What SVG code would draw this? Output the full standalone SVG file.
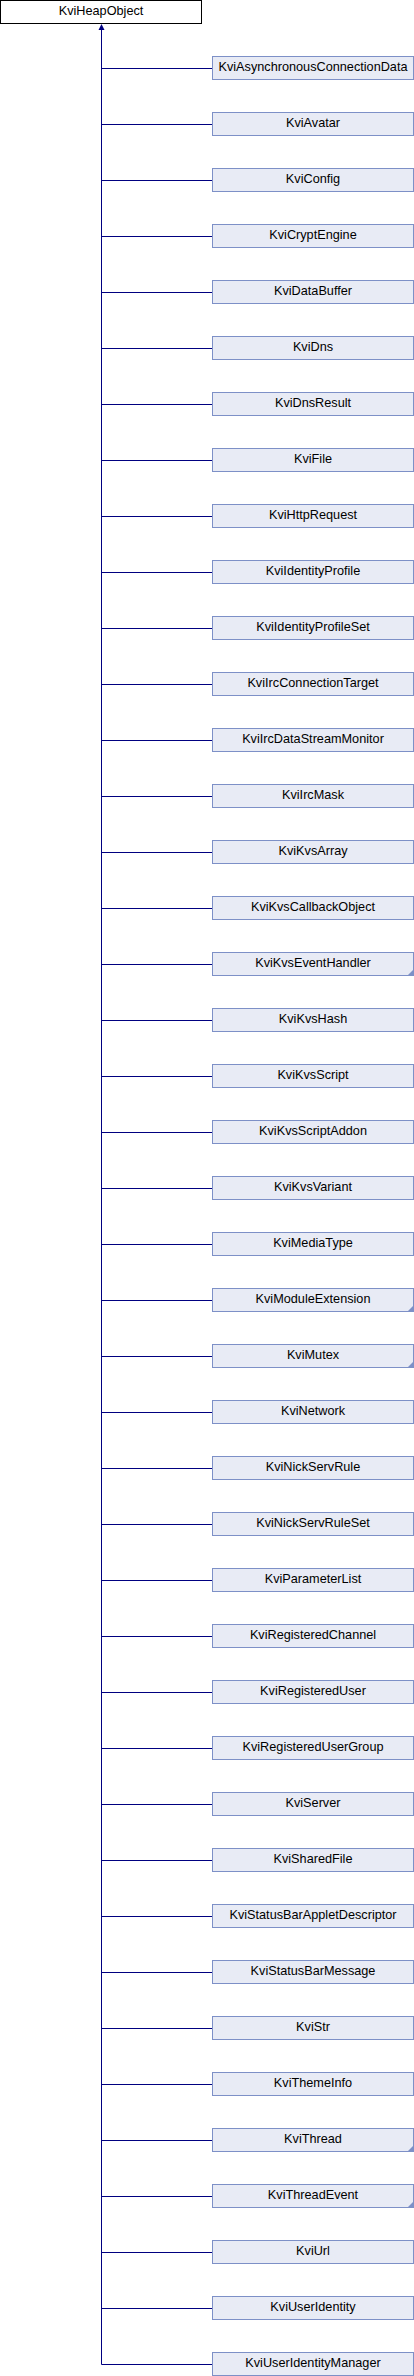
<svg xmlns="http://www.w3.org/2000/svg" width="414" height="2376" viewBox="0 0 414 2376">
<style>
.root{fill:#ffffff;stroke:#000000;stroke-width:1}
.node{fill:#e8ebf5;stroke:#7d90c7;stroke-width:1}
.tri{fill:#7d90c7}
text{font-family:"Liberation Sans",Arial,sans-serif;font-size:12.7px;fill:#000000;text-anchor:middle}
.edge{stroke:#000080;stroke-width:1;fill:none}
</style>
<rect width="414" height="2376" fill="#ffffff"/>
<g id="connectors">
<polyline class="edge" points="101.5,29 101.5,2364.5"/>
<polygon points="101.5,24 98.5,30 104.5,30" fill="#000080"/>
<path class="edge" d="M101.5,68.5H212.5M101.5,124.5H212.5M101.5,180.5H212.5M101.5,236.5H212.5M101.5,292.5H212.5M101.5,348.5H212.5M101.5,404.5H212.5M101.5,460.5H212.5M101.5,516.5H212.5M101.5,572.5H212.5M101.5,628.5H212.5M101.5,684.5H212.5M101.5,740.5H212.5M101.5,796.5H212.5M101.5,852.5H212.5M101.5,908.5H212.5M101.5,964.5H212.5M101.5,1020.5H212.5M101.5,1076.5H212.5M101.5,1132.5H212.5M101.5,1188.5H212.5M101.5,1244.5H212.5M101.5,1300.5H212.5M101.5,1356.5H212.5M101.5,1412.5H212.5M101.5,1468.5H212.5M101.5,1524.5H212.5M101.5,1580.5H212.5M101.5,1636.5H212.5M101.5,1692.5H212.5M101.5,1748.5H212.5M101.5,1804.5H212.5M101.5,1860.5H212.5M101.5,1916.5H212.5M101.5,1972.5H212.5M101.5,2028.5H212.5M101.5,2084.5H212.5M101.5,2140.5H212.5M101.5,2196.5H212.5M101.5,2252.5H212.5M101.5,2308.5H212.5M101.5,2364.5H212.5"/>
</g>
<g id="KviHeapObject"><rect class="root" x="0.5" y="0.5" width="201" height="23"/><text x="101" y="15">KviHeapObject</text></g>
<g id="n1"><rect class="node" x="212.5" y="56.5" width="201" height="23"/><text x="313" y="71">KviAsynchronousConnectionData</text></g>
<g id="n2"><rect class="node" x="212.5" y="112.5" width="201" height="23"/><text x="313" y="127">KviAvatar</text></g>
<g id="n3"><rect class="node" x="212.5" y="168.5" width="201" height="23"/><text x="313" y="183">KviConfig</text></g>
<g id="n4"><rect class="node" x="212.5" y="224.5" width="201" height="23"/><text x="313" y="239">KviCryptEngine</text></g>
<g id="n5"><rect class="node" x="212.5" y="280.5" width="201" height="23"/><text x="313" y="295">KviDataBuffer</text></g>
<g id="n6"><rect class="node" x="212.5" y="336.5" width="201" height="23"/><text x="313" y="351">KviDns</text></g>
<g id="n7"><rect class="node" x="212.5" y="392.5" width="201" height="23"/><text x="313" y="407">KviDnsResult</text></g>
<g id="n8"><rect class="node" x="212.5" y="448.5" width="201" height="23"/><text x="313" y="463">KviFile</text></g>
<g id="n9"><rect class="node" x="212.5" y="504.5" width="201" height="23"/><text x="313" y="519">KviHttpRequest</text></g>
<g id="n10"><rect class="node" x="212.5" y="560.5" width="201" height="23"/><text x="313" y="575">KviIdentityProfile</text></g>
<g id="n11"><rect class="node" x="212.5" y="616.5" width="201" height="23"/><text x="313" y="631">KviIdentityProfileSet</text></g>
<g id="n12"><rect class="node" x="212.5" y="672.5" width="201" height="23"/><text x="313" y="687">KviIrcConnectionTarget</text></g>
<g id="n13"><rect class="node" x="212.5" y="728.5" width="201" height="23"/><text x="313" y="743">KviIrcDataStreamMonitor</text></g>
<g id="n14"><rect class="node" x="212.5" y="784.5" width="201" height="23"/><text x="313" y="799">KviIrcMask</text></g>
<g id="n15"><rect class="node" x="212.5" y="840.5" width="201" height="23"/><text x="313" y="855">KviKvsArray</text></g>
<g id="n16"><rect class="node" x="212.5" y="896.5" width="201" height="23"/><text x="313" y="911">KviKvsCallbackObject</text></g>
<g id="n17"><rect class="node" x="212.5" y="952.5" width="201" height="23"/><polygon class="tri" points="414,969 414,976 407,976"/><text x="313" y="967">KviKvsEventHandler</text></g>
<g id="n18"><rect class="node" x="212.5" y="1008.5" width="201" height="23"/><text x="313" y="1023">KviKvsHash</text></g>
<g id="n19"><rect class="node" x="212.5" y="1064.5" width="201" height="23"/><text x="313" y="1079">KviKvsScript</text></g>
<g id="n20"><rect class="node" x="212.5" y="1120.5" width="201" height="23"/><text x="313" y="1135">KviKvsScriptAddon</text></g>
<g id="n21"><rect class="node" x="212.5" y="1176.5" width="201" height="23"/><text x="313" y="1191">KviKvsVariant</text></g>
<g id="n22"><rect class="node" x="212.5" y="1232.5" width="201" height="23"/><text x="313" y="1247">KviMediaType</text></g>
<g id="n23"><rect class="node" x="212.5" y="1288.5" width="201" height="23"/><polygon class="tri" points="414,1305 414,1312 407,1312"/><text x="313" y="1303">KviModuleExtension</text></g>
<g id="n24"><rect class="node" x="212.5" y="1344.5" width="201" height="23"/><polygon class="tri" points="414,1361 414,1368 407,1368"/><text x="313" y="1359">KviMutex</text></g>
<g id="n25"><rect class="node" x="212.5" y="1400.5" width="201" height="23"/><text x="313" y="1415">KviNetwork</text></g>
<g id="n26"><rect class="node" x="212.5" y="1456.5" width="201" height="23"/><text x="313" y="1471">KviNickServRule</text></g>
<g id="n27"><rect class="node" x="212.5" y="1512.5" width="201" height="23"/><text x="313" y="1527">KviNickServRuleSet</text></g>
<g id="n28"><rect class="node" x="212.5" y="1568.5" width="201" height="23"/><text x="313" y="1583">KviParameterList</text></g>
<g id="n29"><rect class="node" x="212.5" y="1624.5" width="201" height="23"/><text x="313" y="1639">KviRegisteredChannel</text></g>
<g id="n30"><rect class="node" x="212.5" y="1680.5" width="201" height="23"/><text x="313" y="1695">KviRegisteredUser</text></g>
<g id="n31"><rect class="node" x="212.5" y="1736.5" width="201" height="23"/><text x="313" y="1751">KviRegisteredUserGroup</text></g>
<g id="n32"><rect class="node" x="212.5" y="1792.5" width="201" height="23"/><text x="313" y="1807">KviServer</text></g>
<g id="n33"><rect class="node" x="212.5" y="1848.5" width="201" height="23"/><text x="313" y="1863">KviSharedFile</text></g>
<g id="n34"><rect class="node" x="212.5" y="1904.5" width="201" height="23"/><text x="313" y="1919">KviStatusBarAppletDescriptor</text></g>
<g id="n35"><rect class="node" x="212.5" y="1960.5" width="201" height="23"/><text x="313" y="1975">KviStatusBarMessage</text></g>
<g id="n36"><rect class="node" x="212.5" y="2016.5" width="201" height="23"/><text x="313" y="2031">KviStr</text></g>
<g id="n37"><rect class="node" x="212.5" y="2072.5" width="201" height="23"/><text x="313" y="2087">KviThemeInfo</text></g>
<g id="n38"><rect class="node" x="212.5" y="2128.5" width="201" height="23"/><polygon class="tri" points="414,2145 414,2152 407,2152"/><text x="313" y="2143">KviThread</text></g>
<g id="n39"><rect class="node" x="212.5" y="2184.5" width="201" height="23"/><polygon class="tri" points="414,2201 414,2208 407,2208"/><text x="313" y="2199">KviThreadEvent</text></g>
<g id="n40"><rect class="node" x="212.5" y="2240.5" width="201" height="23"/><text x="313" y="2255">KviUrl</text></g>
<g id="n41"><rect class="node" x="212.5" y="2296.5" width="201" height="23"/><text x="313" y="2311">KviUserIdentity</text></g>
<g id="n42"><rect class="node" x="212.5" y="2352.5" width="201" height="23"/><text x="313" y="2367">KviUserIdentityManager</text></g>
</svg>
